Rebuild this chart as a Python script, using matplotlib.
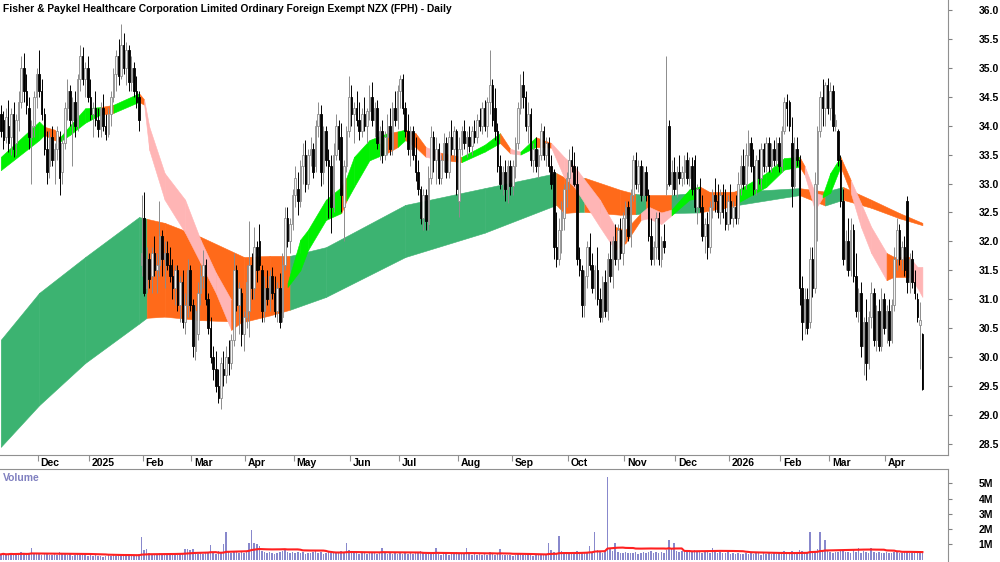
import numpy as np
import pandas as pd
import matplotlib
matplotlib.use("Agg")
import matplotlib.pyplot as plt
from matplotlib.transforms import blended_transform_factory

plt.rcParams['font.family'] = ['Liberation Sans', 'DejaVu Sans']

title = "Fisher & Paykel Healthcare Corporation Limited Ordinary Foreign Exempt NZX (FPH) - Daily"

# NZX holidays (market closed)
holidays = ['2024-12-25', '2024-12-26', '2025-01-01', '2025-01-02', '2025-02-06',
            '2025-04-18', '2025-04-21', '2025-04-25', '2025-06-02', '2025-06-20',
            '2025-10-27', '2025-12-25', '2025-12-26', '2026-01-01', '2026-01-02',
            '2026-02-06', '2026-04-03', '2026-04-06']

# daily candles
opens = [34.20,34.10,33.80,34.00,33.80,34.20,33.70,34.10,34.40,35.00,34.60,34.30,33.80,34.00,34.50,34.90,34.60,34.20,33.60,33.30,
         33.80,33.40,33.60,33.80,33.20,33.70,34.30,34.60,34.10,34.40,34.00,34.80,35.20,34.80,35.00,34.50,34.20,34.30,34.10,33.95,
         34.30,34.00,33.85,34.20,34.50,34.90,35.20,34.85,35.40,35.00,35.30,34.75,35.00,34.60,34.50,31.60,32.40,31.20,31.70,31.40,
         31.80,31.50,31.60,32.10,31.70,31.80,31.60,31.40,31.20,31.50,30.90,31.30,30.60,30.90,31.50,30.90,30.10,30.40,31.10,31.40,
         31.60,31.00,30.50,30.00,29.80,29.50,29.30,29.80,29.70,30.00,29.90,30.30,31.50,30.90,31.10,30.40,30.70,30.80,31.60,31.20,
         31.90,32.00,31.50,30.80,31.20,31.00,31.40,31.10,30.80,31.20,30.70,31.60,32.40,32.00,32.30,32.80,32.90,32.70,33.30,33.50,
         33.00,33.50,33.60,33.30,34.00,34.20,33.20,33.90,33.40,33.30,32.60,33.50,34.00,33.80,32.60,33.30,33.90,34.50,34.20,34.30,
         34.10,33.90,34.20,34.00,34.25,34.50,34.10,34.30,33.70,33.90,33.50,33.80,34.00,33.60,34.30,34.10,34.60,34.80,34.30,33.90,
         33.60,33.90,33.50,33.20,32.90,32.40,32.80,32.30,33.10,33.80,33.40,33.60,33.10,33.40,33.70,33.20,33.80,33.60,33.90,32.70,
         33.60,33.90,33.70,33.80,33.65,33.90,33.80,34.10,34.00,34.30,34.00,34.40,34.70,34.30,33.90,33.30,33.00,33.20,32.90,33.30,
         32.95,33.30,33.70,34.30,34.70,34.50,34.00,34.20,33.40,33.60,33.30,33.50,33.90,33.50,33.70,33.30,33.20,31.90,31.70,32.20,
         32.40,32.90,33.10,33.40,33.30,33.00,31.70,31.50,30.90,31.40,31.90,31.60,31.20,31.50,31.00,30.70,31.30,30.80,31.70,31.40,
         32.00,31.70,32.20,31.80,32.40,32.60,32.10,32.80,33.40,33.00,33.30,32.80,33.20,32.80,32.10,31.70,31.90,32.40,31.70,32.00,
         32.90,34.00,33.00,33.20,32.90,33.20,33.10,33.20,33.40,33.10,33.30,33.40,32.60,32.90,32.60,32.10,32.30,31.90,32.60,32.80,
         32.70,32.50,32.80,32.50,32.30,32.70,32.40,32.60,32.40,33.00,33.30,33.00,33.50,33.70,33.30,32.90,33.40,33.10,33.60,33.30,
         33.70,33.30,33.60,33.40,33.70,33.30,33.90,34.40,34.40,33.70,32.95,33.60,33.40,31.20,30.60,31.00,30.60,31.70,31.20,33.00,
         33.90,34.50,34.30,34.70,34.30,34.60,34.00,33.90,33.40,32.70,31.70,32.00,31.50,32.20,31.40,30.80,31.10,30.20,30.60,29.90,
         30.70,31.10,30.30,30.80,30.20,31.00,30.50,30.80,30.30,30.90,31.70,32.20,31.70,31.90,32.70,31.30,31.70,31.30,31.00,30.55,
         30.40]
highs = [34.35,34.25,34.30,34.45,34.30,34.40,34.20,34.60,35.20,35.25,34.90,34.50,34.10,34.60,35.00,35.30,34.80,34.30,33.90,33.90,
         34.00,33.70,34.00,33.90,33.80,34.40,34.80,34.70,34.50,34.60,34.90,35.40,35.35,35.10,35.20,34.80,34.40,34.60,34.30,34.40,
         34.55,34.20,34.30,34.60,35.00,35.30,35.50,35.75,35.60,35.45,35.40,35.20,35.10,34.85,34.60,32.80,32.85,31.90,31.80,31.90,
         32.10,31.80,32.70,32.20,32.00,32.00,31.90,31.70,31.60,31.60,31.40,31.50,31.10,31.70,31.60,31.00,30.90,31.30,31.60,31.85,
         31.70,31.10,30.70,30.20,30.10,29.80,30.00,30.10,30.20,30.30,30.40,31.80,31.60,31.30,31.20,30.80,31.60,32.35,31.80,32.25,
         32.00,32.30,31.60,31.40,31.50,31.50,31.55,31.40,31.30,31.45,31.80,32.60,32.60,32.40,32.90,33.30,33.20,33.40,33.70,33.75,
         33.60,33.80,33.70,34.10,34.40,34.35,34.00,34.00,33.60,33.50,33.70,34.20,34.10,34.05,33.40,34.00,34.85,34.70,34.40,34.60,
         34.40,34.30,34.50,34.30,34.70,34.75,34.40,34.45,34.00,34.10,33.90,34.20,34.30,34.40,34.60,34.70,34.88,34.90,34.40,34.20,
         34.00,34.00,33.80,33.40,32.95,32.90,32.90,33.30,34.00,33.90,33.80,33.70,33.50,33.87,33.80,33.90,34.10,34.00,33.95,33.80,
         34.00,34.10,33.90,34.00,34.00,34.10,34.20,34.30,34.40,34.45,34.50,35.30,34.80,34.65,34.05,33.50,33.30,33.40,33.40,33.40,
         33.40,33.80,34.40,34.90,34.95,34.60,34.40,34.30,33.70,33.80,33.60,34.05,34.00,33.80,33.80,33.50,33.25,32.50,32.40,32.70,
         33.00,33.20,33.60,33.65,33.55,33.30,31.90,31.60,31.50,32.00,32.15,31.80,31.60,31.90,31.20,31.40,31.50,31.80,32.00,32.10,
         32.30,32.30,32.40,32.50,32.70,32.70,32.90,33.50,33.55,33.40,33.40,33.30,33.30,32.90,32.40,32.00,32.50,32.50,32.10,32.30,
         35.20,34.10,33.40,33.45,33.30,33.50,33.30,33.50,33.55,33.45,33.45,33.50,33.00,33.10,32.80,32.40,32.50,32.70,32.90,33.10,
         33.00,32.90,33.00,32.90,32.80,33.00,32.70,32.80,33.20,33.50,33.60,33.70,33.92,33.80,33.60,33.50,33.60,33.70,33.70,33.80,
         33.80,33.70,33.75,33.80,33.80,34.00,34.50,34.55,34.45,34.15,33.80,33.80,33.50,31.40,31.20,31.20,31.90,31.90,33.20,34.00,
         34.60,34.80,34.75,34.82,34.75,34.70,34.20,33.95,33.50,32.90,32.20,32.40,32.40,32.30,31.80,31.20,31.30,30.70,31.00,30.80,
         31.30,31.20,30.90,31.00,31.20,31.10,30.90,31.00,31.00,31.90,32.40,32.30,32.00,32.10,32.78,31.80,31.85,31.50,31.10,30.95,
         30.42]
lows = [33.80,33.60,33.70,33.55,33.50,33.45,33.50,33.90,34.30,34.40,34.20,33.60,33.00,33.80,34.30,34.50,34.10,33.50,33.00,33.10,
        33.30,33.00,33.40,32.80,33.00,33.60,34.10,34.00,33.30,33.80,33.90,34.60,34.70,34.50,34.40,34.10,33.80,34.00,33.80,33.80,
        33.90,33.75,33.80,34.00,34.40,34.60,34.70,34.80,34.90,34.70,34.60,34.60,34.50,34.30,33.90,31.40,31.05,31.10,31.20,31.10,
        31.40,31.10,31.40,31.40,31.20,31.50,31.30,31.00,30.90,30.80,30.60,30.50,30.40,30.70,30.80,30.00,29.95,30.30,30.90,31.20,
        30.90,30.40,29.90,29.60,29.40,29.20,29.10,29.50,29.55,29.70,29.80,30.20,30.80,30.40,30.20,30.10,30.50,30.35,31.00,31.00,
        31.30,31.50,30.60,30.60,30.90,30.80,31.00,30.70,30.60,30.50,30.60,31.50,31.90,31.80,32.20,32.60,32.45,32.60,33.00,32.85,
        32.90,33.30,33.10,33.20,33.80,32.95,33.00,33.30,32.40,32.15,32.50,33.40,33.40,32.50,32.00,33.20,33.80,34.00,33.70,34.00,
        33.75,33.80,33.90,33.70,34.10,34.00,33.80,33.60,33.40,33.35,33.40,33.50,33.50,33.50,34.00,33.95,34.30,34.20,33.80,33.50,
        33.30,33.40,33.05,32.80,32.30,32.20,32.20,32.20,33.00,33.20,33.00,33.00,33.00,33.20,33.10,33.10,33.50,33.40,32.80,32.43,
        33.50,33.60,33.45,33.55,33.50,33.70,33.70,33.90,33.85,33.90,33.80,34.20,34.00,33.75,33.20,32.90,32.80,32.70,32.66,32.80,
        32.80,33.10,33.60,34.20,34.30,33.90,33.70,33.30,33.20,33.20,33.10,33.40,33.40,33.30,33.20,32.90,31.70,31.56,31.60,31.80,
        32.20,32.60,32.90,33.20,32.95,31.60,31.40,30.70,30.70,31.20,31.50,31.10,31.00,30.90,30.60,30.60,30.70,30.65,31.30,31.20,
        31.60,31.50,31.70,31.60,32.00,32.00,31.90,32.70,32.90,32.85,32.70,32.70,32.70,32.00,31.60,31.60,31.70,31.60,31.55,31.80,
        32.80,32.95,32.80,32.80,32.77,33.00,32.95,33.00,33.00,32.95,32.80,32.50,32.30,32.50,32.00,31.80,31.70,31.80,32.40,32.50,
        32.40,32.30,32.40,32.20,32.20,32.30,32.25,32.30,32.30,32.80,32.90,32.90,33.30,33.20,32.80,32.80,33.00,32.90,33.20,33.20,
        33.20,33.20,33.30,33.30,33.20,33.20,33.85,34.00,33.90,32.60,32.90,33.30,30.90,30.30,30.40,30.40,30.50,31.04,31.10,32.00,
        33.80,34.00,34.00,34.20,34.10,33.90,33.90,33.30,32.60,31.60,31.50,31.40,31.40,31.30,30.70,30.60,30.00,29.70,29.60,29.80,
        30.50,30.20,30.10,30.10,30.10,30.40,30.25,30.20,30.25,30.80,31.50,31.60,31.50,31.40,31.10,31.10,31.20,31.00,30.60,29.80,
        29.43]
closes = [33.90,33.75,34.15,33.70,34.20,33.60,34.10,34.40,35.00,34.60,34.35,33.80,34.00,34.50,34.90,34.60,34.20,33.60,33.20,33.80,
          33.40,33.60,33.90,33.10,33.70,34.30,34.60,34.10,34.40,34.00,34.80,35.20,34.80,35.00,34.50,34.20,34.30,34.10,33.95,34.30,
          34.00,33.85,34.20,34.50,34.90,35.20,34.85,35.40,35.00,35.30,34.75,35.00,34.60,34.40,34.10,31.80,31.10,31.70,31.35,31.80,
          31.50,31.60,32.10,31.70,31.80,31.60,31.40,31.20,31.50,30.90,31.30,30.60,30.90,31.50,30.90,30.20,30.80,31.10,31.40,31.60,
          31.00,30.50,30.00,29.80,29.50,29.30,29.90,29.70,30.00,29.90,30.30,31.50,30.90,31.20,30.40,30.70,31.30,31.60,31.20,31.90,
          31.50,31.60,30.80,31.20,31.00,31.40,31.10,30.80,31.20,30.60,31.60,32.40,32.00,32.30,32.80,33.10,32.70,33.30,33.50,33.00,
          33.50,33.60,33.20,34.00,34.20,33.20,33.90,33.40,33.30,32.60,33.50,34.00,33.60,32.80,33.30,33.90,34.50,34.20,34.30,34.10,
          33.90,34.20,34.00,34.25,34.50,34.10,34.30,33.70,33.90,33.50,33.80,34.00,33.60,34.30,34.10,34.60,34.80,34.30,33.90,33.60,
          33.90,33.50,33.20,32.90,32.40,32.80,32.35,33.10,33.80,33.40,33.60,33.10,33.40,33.70,33.20,33.80,33.60,33.90,32.90,33.60,
          33.90,33.70,33.80,33.65,33.90,33.80,34.10,34.00,34.30,34.00,34.40,34.70,34.10,33.90,33.30,33.00,33.20,32.90,33.30,32.95,
          33.30,33.70,34.30,34.70,34.50,34.00,34.20,33.40,33.60,33.30,33.50,33.90,33.50,33.70,33.30,33.00,31.90,31.70,32.20,32.50,
          32.90,33.10,33.40,33.30,33.00,31.70,31.50,30.90,31.40,31.90,31.60,31.20,31.50,31.00,30.70,31.30,30.80,31.70,31.40,32.00,
          31.70,32.20,31.80,32.40,32.60,32.10,32.80,33.40,33.00,33.30,32.80,33.20,32.80,32.10,31.70,31.90,32.40,31.70,32.00,31.90,
          33.00,33.00,33.20,32.90,33.20,33.10,33.20,33.40,33.10,33.30,32.90,32.60,32.90,32.60,32.10,32.30,31.90,32.60,32.80,32.70,
          32.50,32.80,32.50,32.30,32.70,32.40,32.60,32.40,33.00,33.30,33.00,33.50,33.70,33.30,32.90,33.40,33.10,33.60,33.30,33.70,
          33.30,33.60,33.40,33.70,33.30,33.90,34.40,34.30,34.00,32.95,33.60,33.40,31.20,30.60,31.00,30.50,31.70,31.20,33.00,33.90,
          34.50,34.30,34.70,34.30,34.60,34.00,34.10,33.40,32.70,31.70,32.00,31.50,32.20,31.40,30.80,31.10,30.20,30.60,29.90,30.70,
          31.10,30.30,30.80,30.20,31.00,30.50,30.80,30.30,30.90,31.70,32.20,31.70,31.90,31.50,31.30,31.70,31.30,31.10,30.70,30.65,
          29.45]
# volume in millions
volume = [0.35,0.42,0.30,0.38,0.45,0.33,0.40,0.36,0.48,0.39,0.31,0.44,0.75,0.37,0.35,0.41,0.33,0.46,0.38,0.30,
          0.34,0.43,0.29,0.52,0.36,0.40,0.31,0.37,0.27,0.33,0.39,0.28,0.35,0.30,0.26,0.32,0.24,0.29,0.22,0.27,
          0.21,0.25,0.30,0.23,0.28,0.26,0.33,0.24,0.29,0.35,0.27,0.31,0.25,0.34,0.38,1.50,0.62,0.70,0.41,0.36,
          0.33,0.39,0.45,0.31,0.36,0.30,0.34,0.28,0.37,0.32,0.40,0.35,0.68,0.72,0.61,0.70,0.44,0.38,0.47,0.36,
          0.42,0.50,0.95,0.46,0.38,0.55,0.43,1.00,1.85,0.52,0.45,0.60,0.48,0.41,0.53,0.47,0.58,1.10,1.95,1.10,
          1.05,0.90,0.55,0.48,0.42,0.51,0.46,0.39,0.44,0.50,0.56,0.62,0.48,0.45,0.53,0.41,0.49,0.44,0.52,0.38,
          0.46,0.42,0.50,0.55,0.43,0.48,0.40,0.47,0.52,0.45,0.41,0.49,0.44,0.58,0.51,1.10,0.62,0.47,0.43,0.50,
          0.39,0.46,0.42,0.37,0.48,0.41,0.45,0.36,0.50,0.80,0.44,0.39,0.47,0.35,0.42,0.38,0.46,0.40,0.52,0.37,
          0.41,0.36,0.44,0.48,0.55,0.42,0.39,0.45,0.37,0.43,0.75,0.40,0.34,0.41,0.38,0.33,0.42,0.36,0.50,0.47,
          0.35,0.40,0.75,0.37,0.32,0.39,0.34,0.41,0.30,0.36,0.33,0.48,0.38,0.31,0.37,0.70,0.29,0.34,0.28,0.32,
          0.27,0.31,0.35,0.40,0.33,0.29,0.36,0.30,0.26,0.32,0.28,0.34,0.31,0.37,1.10,0.62,0.48,0.45,1.55,0.55,
          0.44,0.40,0.38,0.46,0.42,0.55,0.50,0.47,0.43,0.52,0.90,0.48,1.80,0.65,0.50,0.46,0.58,5.40,0.70,0.55,
          1.10,0.52,0.47,0.44,0.50,0.41,0.46,0.43,0.49,0.40,0.45,0.51,0.42,0.48,0.55,0.44,0.50,0.47,0.53,0.45,
          0.62,1.30,0.80,1.10,0.58,0.52,0.60,0.48,0.55,0.50,0.57,0.63,0.49,0.54,0.46,0.52,0.58,0.47,0.80,0.50,
          0.44,0.49,0.41,0.46,0.52,0.38,0.43,0.36,0.47,0.40,0.35,0.42,0.39,0.45,0.37,0.48,0.41,0.34,0.44,0.38,
          0.42,0.36,0.45,0.39,0.50,0.43,0.55,0.47,0.52,0.58,0.46,0.49,0.65,0.55,0.48,0.52,1.85,0.60,0.56,0.70,
          1.80,0.62,1.30,0.58,0.50,0.47,0.53,0.49,0.56,0.61,0.52,0.48,0.45,0.70,0.51,0.80,0.47,0.55,0.50,0.46,
          0.75,0.49,0.44,0.52,0.47,0.41,0.50,0.45,0.43,0.48,0.53,0.46,0.42,0.49,0.55,0.44,0.47,0.41,0.46,0.43,
          0.50]

# long-term ribbon (band edges at bar index), colour of each following stretch
long_idx = [0, 15, 33, 54, 57, 64, 78, 95, 105, 113, 127, 158, 189, 217, 220, 226, 228, 242, 248, 252, 262, 273, 288, 312, 322, 329, 340, 351, 360]
long_top = [30.30, 31.11, 31.73, 32.42, 32.39, 32.32, 32.08, 31.73, 31.75, 31.75, 31.90, 32.63, 32.92, 33.18, 33.11, 33.10, 33.10, 32.89, 32.82, 32.80, 32.80, 32.85, 32.86, 32.92, 32.86, 32.94, 32.72, 32.49, 32.32]
long_bot = [28.45, 29.17, 29.90, 30.58, 30.68, 30.70, 30.64, 30.61, 30.72, 30.82, 31.04, 31.73, 32.15, 32.63, 32.49, 32.51, 32.51, 32.46, 32.47, 32.49, 32.49, 32.50, 32.63, 32.80, 32.62, 32.72, 32.58, 32.40, 32.28]
long_col = 'ggggoooooggggoogoogogogogooo'

# short-term ribbon
short_idx = [0, 15, 17, 21, 23, 27, 33, 39, 44, 54, 56, 58, 64, 72, 78, 84, 90, 95, 105, 112, 117, 120, 127, 133, 135, 138, 144, 151, 155, 158,
             162, 166, 172, 180, 189, 195, 199, 203, 209, 215, 220, 224, 234, 240, 244, 250, 253, 258, 262, 269, 273, 281, 288, 299, 306, 312,
             314, 318, 321, 324, 328, 332, 336, 340, 346, 349, 355, 358, 360]
short_top = [33.46, 34.07, 33.98, 33.93, 33.79, 34.00, 34.30, 34.32, 34.36, 34.56, 34.45, 33.98, 33.18, 32.72, 32.03, 31.46, 30.99, 31.00, 31.16, 31.28,
             32.03, 32.20, 32.72, 32.94, 33.10, 33.46, 33.75, 33.87, 33.90, 33.93, 33.87, 33.63, 33.53, 33.46, 33.67, 33.87, 33.60, 33.55, 33.80, 33.70,
             33.46, 33.30, 32.72, 32.25, 32.20, 32.49, 32.60, 32.50, 32.55, 32.90, 32.95, 32.75, 32.89, 33.18, 33.44, 33.46, 33.30, 32.84, 32.80, 33.18,
             33.46, 33.06, 32.66, 32.25, 31.80, 31.73, 31.73, 31.56, 31.56]
short_bot = [33.23, 33.75, 33.84, 33.75, 33.72, 33.84, 34.05, 34.19, 34.22, 34.41, 34.36, 33.58, 32.72, 32.15, 31.63, 31.11, 30.47, 30.64, 30.90, 31.21,
             31.50, 31.85, 32.37, 32.49, 32.70, 32.94, 33.40, 33.53, 33.63, 33.75, 33.63, 33.46, 33.41, 33.37, 33.55, 33.70, 33.52, 33.50, 33.63, 33.62,
             33.11, 32.94, 32.25, 31.85, 31.97, 32.37, 32.40, 32.30, 32.45, 32.72, 32.75, 32.55, 32.67, 32.94, 33.24, 33.29, 33.15, 32.54, 32.76, 32.84,
             33.29, 32.84, 32.25, 31.80, 31.33, 31.39, 31.39, 31.20, 31.04]
short_col = 'ggoogggogo' 'ppppppooog' 'gggogggogo' 'opoggopgop' 'pppoopppgg' 'oogggoppgg' 'opppoopp'

ribbon_colors = {'g': '#3CB371', 'o': '#FF6A1A'}
short_colors = {'g': '#00F000', 'o': '#FF6A1A', 'p': '#FFB5B5'}

n = len(closes)
dates = pd.bdate_range('2024-11-11', '2026-04-23')
dates = dates[~dates.isin(pd.to_datetime(holidays))][:n]
x = np.arange(n)

fig = plt.figure(figsize=(10, 5.62), dpi=100)
ax = fig.add_axes([0, 1 - 455 / 562, 0.948, 455 / 562])
vax = fig.add_axes([0, 0, 0.948, 93 / 562], sharex=ax)

# ribbons
for k in range(len(long_idx) - 1):
    ax.fill_between(long_idx[k:k + 2], long_top[k:k + 2], long_bot[k:k + 2],
                    color=ribbon_colors[long_col[k]], lw=0.4, zorder=1)
for k in range(len(short_idx) - 1):
    ax.fill_between(short_idx[k:k + 2], short_top[k:k + 2], short_bot[k:k + 2],
                    color=short_colors[short_col[k]], lw=0.4, zorder=2)

# candles
o = np.array(opens); h = np.array(highs); l = np.array(lows); c = np.array(closes)
up = c >= o
ax.vlines(x[up], l[up], h[up], color='#8c8c8c', lw=0.7, zorder=3)
ax.vlines(x[~up], l[~up], h[~up], color='black', lw=0.7, zorder=3)
ax.bar(x[up], c[up] - o[up], bottom=o[up], width=0.6, facecolor='#f4f4f4',
       edgecolor='#8c8c8c', lw=0.6, zorder=4)
ax.bar(x[~up], o[~up] - c[~up], bottom=c[~up], width=0.6, facecolor='black',
       edgecolor='black', lw=0.6, zorder=4)

ax.set_xlim(-0.3, 370)
ax.set_ylim(28.31, 36.17)
ax.yaxis.tick_right()
ax.set_yticks(np.arange(28.5, 36.01, 0.5))
ax.set_yticklabels(['%.1f' % v for v in np.arange(28.5, 36.01, 0.5)])
ax.tick_params(axis='y', length=3, color='#808080', pad=19, labelsize=7.5)
for lab in ax.get_yticklabels():
    lab.set_fontweight('bold')
for s in ['top', 'left']:
    ax.spines[s].set_visible(False)
for s in ['right', 'bottom']:
    ax.spines[s].set_color('#909090')

# month ticks
month_start = [i for i in range(n) if i == 0 or dates[i].month != dates[i - 1].month][1:]
ax.set_xticks([i - 0.5 for i in month_start])
ax.tick_params(axis='x', length=4, color='#909090', labelbottom=False)
trans = blended_transform_factory(ax.transData, fig.transFigure)
for i in month_start:
    lab = str(dates[i].year) if dates[i].month == 1 else dates[i].strftime('%b')
    t = fig.text(0, 0, lab, transform=trans, fontsize=7.5, fontweight='bold',
                 va='center', ha='left')
    t.set_position((i + 0.6, 1 - 463 / 562))

# volume
vax.bar(x, volume, width=0.6, color='#8888CC', zorder=2)
vol_ma = pd.Series(volume).rolling(30, min_periods=1).mean()
vax.plot(x, vol_ma, color='#FF2020', lw=1.5, zorder=3)
vax.set_ylim(-0.15, 5.95)
vax.yaxis.tick_right()
vax.set_yticks([1, 2, 3, 4, 5])
vax.set_yticklabels(['1M', '2M', '3M', '4M', '5M'])
vax.tick_params(axis='y', length=3, color='#808080', pad=19, labelsize=7.5)
for lab in vax.get_yticklabels():
    lab.set_fontweight('bold')
vax.tick_params(axis='x', length=0, labelbottom=False)
for s in ['bottom', 'left']:
    vax.spines[s].set_visible(False)
for s in ['right', 'top']:
    vax.spines[s].set_color('#909090')
vax.text(3 / 948, 1 - 9 / 93, 'Volume', transform=vax.transAxes, color='#8080C0',
         fontsize=7.5, fontweight='bold', va='center', ha='left')

fig.text(3 / 1000, 1 - 9 / 562, title, fontsize=7.4, fontweight='bold', va='center', ha='left')

fig.savefig('out.png', dpi=100)
